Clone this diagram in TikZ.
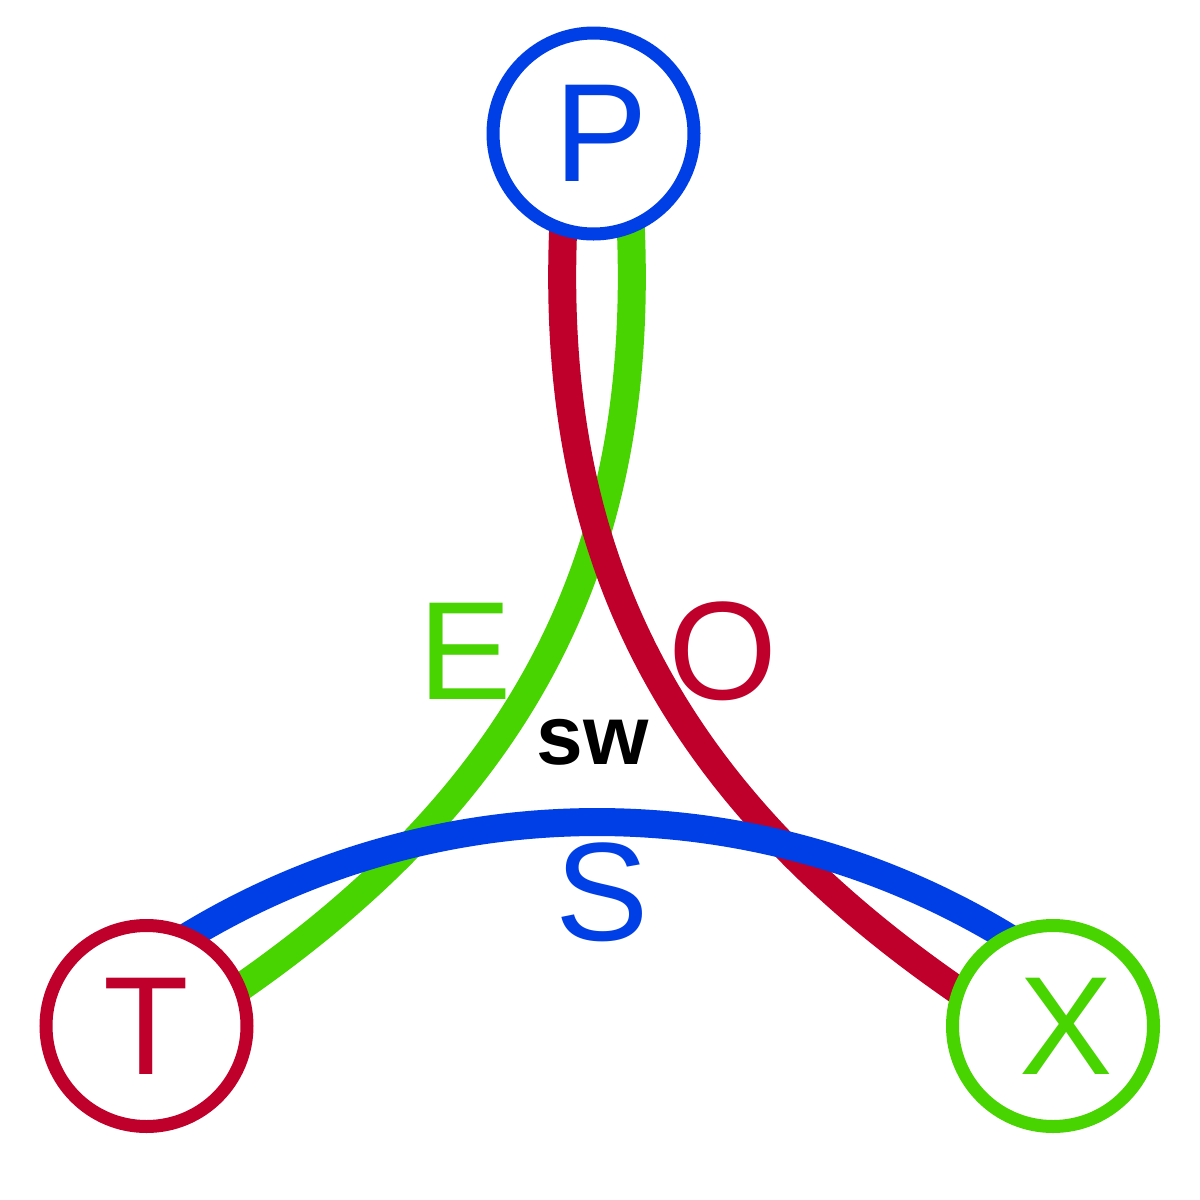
\documentclass[tikz,border=0pt]{standalone}
\usepackage{fontspec}
\setmainfont{Liberation Sans}
\definecolor{cblue}{RGB}{0,62,230}
\definecolor{cred}{RGB}{190,0,42}
\definecolor{cgreen}{RGB}{72,212,0}
\pgfdeclarelayer{bg}
\pgfsetlayers{bg,main}
\begin{document}
\begin{tikzpicture}[x=1pt,y=-1pt,
  vert/.style={circle,draw,line width=13pt,fill=white,minimum size=201pt,inner sep=0pt,
    font=\fontsize{140}{140}\selectfont},
  wire/.style={line width=28pt,line cap=butt,line join=round},
  lbl/.style={inner sep=0pt,font=\fontsize{140}{140}\selectfont},
  small/.style={inner sep=0pt,font=\fontsize{84}{84}\selectfont\bfseries}]
\useasboundingbox (0,0) rectangle (1200,1200);
\node[vert,draw=cblue,text=cblue] (P) at (593.5,133.5) {\hspace{16pt}P};
\node[vert,draw=cred,text=cred] (T) at (146.5,1026) {T};
\node[vert,draw=cgreen,text=cgreen] (X) at (1053,1026) {\hspace{26pt}X};
\begin{pgfonlayer}{bg}
\fill[white] (0,0) rectangle (1200,1200);
\draw[wire,cgreen] (P.center) ++(37,57) -- (631,233) .. controls (642,533) and (544,775) .. (244,985) -- ++(-40,28);
\draw[wire,cred] (P.center) ++(-30,57) -- (563,233) .. controls (552,533) and (650,775) .. (950,985) -- ++(40,28);
\draw[wire,cblue] (T.center) ++(9,-69) arc[start angle=236,end angle=304,radius=789.6];
\end{pgfonlayer}
\node[lbl,text=cgreen] (E) at (465,651) {E};
\node[lbl,text=cred] (O) at (723,651) {O};
\node[lbl,text=cblue] (S) at (602,892) {S};
\node[small] (sw) at (592.5,742) {sw};
\end{tikzpicture}
\end{document}
